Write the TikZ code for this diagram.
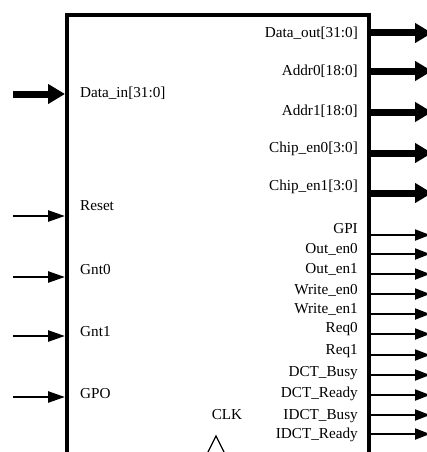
\documentclass[tikz,border=0pt]{standalone}
\usepackage{fontspec}
\setmainfont{Liberation Serif}
\usetikzlibrary{arrows.meta, positioning}

\begin{document}
\begin{tikzpicture}[
      x=1pt, y=-1pt,
      every node/.style={font=\fontsize{15.2}{17}\selectfont, inner sep=0pt},
      module/.style={draw, line width=3.5pt, anchor=north west, minimum width=302pt, minimum height=470pt},
      inlabel/.style={anchor=west},
      outlabel/.style={anchor=east},
      bus/.style={-{Triangle[length=17pt,width=19pt]}, line width=7pt},
      wire/.style={-{Triangle[length=17pt,width=11pt]}, line width=2.5pt},
      owire/.style={-{Triangle[length=15pt,width=11pt]}, line width=2pt}
    ]
      \useasboundingbox (0,0) rectangle (427,452);
      % the module, its bottom edge lies below the page
      \node[module] (core) at (65,13.5) {};

      % inputs
      \node[inlabel] (dinlbl) at (80,93) {Data\_in[31:0]};
      \node[inlabel] (rstlbl) at (80,206) {Reset};
      \node[inlabel] (gnt0lbl) at (80,270) {Gnt0};
      \node[inlabel] (gnt1lbl) at (80,332) {Gnt1};
      \node[inlabel] (gpolbl) at (80,394) {GPO};
      \coordinate (din) at (13,94);
      \coordinate (rst) at (13,216);
      \coordinate (gnt0) at (13,277);
      \coordinate (gnt1) at (13,336);
      \coordinate (gpo) at (13,397);
      \draw[bus] (din) -- (din -| core.west);
      \draw[wire] (rst) -- (rst -| core.west);
      \draw[wire] (gnt0) -- (gnt0 -| core.west);
      \draw[wire] (gnt1) -- (gnt1 -| core.west);
      \draw[wire] (gpo) -- (gpo -| core.west);

      % wide outputs
      \node[outlabel] (doutlbl) at (358,33) {Data\_out[31:0]};
      \node[outlabel] (addr0lbl) at (358,71) {Addr0[18:0]};
      \node[outlabel] (addr1lbl) at (358,111) {Addr1[18:0]};
      \node[outlabel] (cen0lbl) at (358,149) {Chip\_en0[3:0]};
      \node[outlabel] (cen1lbl) at (358,187) {Chip\_en1[3:0]};
      \coordinate (dout) at (432,33);
      \coordinate (addr0) at (432,71);
      \coordinate (addr1) at (432,112);
      \coordinate (cen0) at (432,153);
      \coordinate (cen1) at (432,193);
      \draw[bus] (dout -| core.east) -- (dout);
      \draw[bus] (addr0 -| core.east) -- (addr0);
      \draw[bus] (addr1 -| core.east) -- (addr1);
      \draw[bus] (cen0 -| core.east) -- (cen0);
      \draw[bus] (cen1 -| core.east) -- (cen1);

      % single bit outputs
      \node[outlabel] (gpilbl) at (358,229) {GPI};
      \node[outlabel] (oen0lbl) at (358,249) {Out\_en0};
      \node[outlabel] (oen1lbl) at (358,269) {Out\_en1};
      \node[outlabel] (wen0lbl) at (358,290) {Write\_en0};
      \node[outlabel] (wen1lbl) at (358,309) {Write\_en1};
      \node[outlabel] (req0lbl) at (358,329) {Req0};
      \node[outlabel] (req1lbl) at (358,351) {Req1};
      \node[outlabel] (dbusylbl) at (358,373) {DCT\_Busy};
      \node[outlabel] (dreadylbl) at (358,394) {DCT\_Ready};
      \node[outlabel] (ibusylbl) at (358,416) {IDCT\_Busy};
      \node[outlabel] (ireadylbl) at (358,435) {IDCT\_Ready};
      \coordinate (gpi) at (430,235);
      \coordinate (oen0) at (430,254);
      \coordinate (oen1) at (430,274);
      \coordinate (wen0) at (430,294);
      \coordinate (wen1) at (430,314);
      \coordinate (req0) at (430,334);
      \coordinate (req1) at (430,355);
      \coordinate (dbusy) at (430,375);
      \coordinate (dready) at (430,395);
      \coordinate (ibusy) at (430,415);
      \coordinate (iready) at (430,434);
      \draw[owire] (gpi -| core.east) -- (gpi);
      \draw[owire] (oen0 -| core.east) -- (oen0);
      \draw[owire] (oen1 -| core.east) -- (oen1);
      \draw[owire] (wen0 -| core.east) -- (wen0);
      \draw[owire] (wen1 -| core.east) -- (wen1);
      \draw[owire] (req0 -| core.east) -- (req0);
      \draw[owire] (req1 -| core.east) -- (req1);
      \draw[owire] (dbusy -| core.east) -- (dbusy);
      \draw[owire] (dready -| core.east) -- (dready);
      \draw[owire] (ibusy -| core.east) -- (ibusy);
      \draw[owire] (iready -| core.east) -- (iready);

      % clock input
      \node (clklbl) at (227,415) {CLK};
      \draw[line width=1.2pt] (208,452) -- (216,436) -- (224,452);
    \end{tikzpicture}
\end{document}
